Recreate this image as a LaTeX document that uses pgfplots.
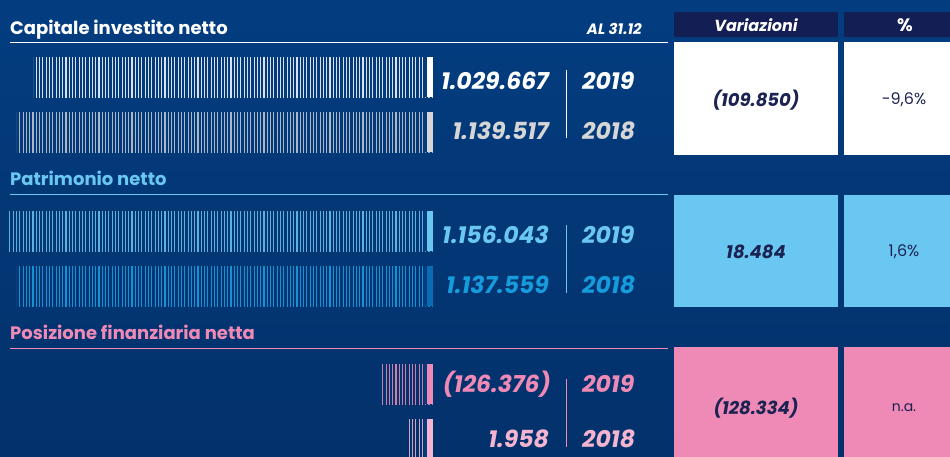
\documentclass[border=0pt]{standalone}
\usepackage{fontspec}
\setmainfont{Poppins}
\usepackage{pgfplots}
\pgfplotsset{compat=1.18}
\usetikzlibrary{patterns.meta}
\definecolor{bgtop}{HTML}{033D80}
\definecolor{bgbot}{HTML}{03316B}
\definecolor{navy}{HTML}{131E55}
\definecolor{txtnavy}{HTML}{1A2352}
\definecolor{lblue}{HTML}{6AC7F2}
\definecolor{mblue}{HTML}{169BDC}
\definecolor{dblue}{HTML}{0A6DB3}
\definecolor{pink}{HTML}{EF89B5}
\definecolor{lpink}{HTML}{F5B4D0}
\definecolor{lgray}{HTML}{D6D6D6}
\newcommand{\fs}[1]{\fontsize{#1}{#1}\selectfont}
\begin{document}
\begin{tikzpicture}
\begin{axis}[at={(0,0)}, anchor=south west, scale only axis, width=950pt, height=456pt,
  xmin=0, xmax=950, ymin=0, ymax=456, y dir=reverse, hide axis]
\addplot[draw=none] coordinates {(0,0) (950,456)};
\fill[top color=bgtop, bottom color=bgbot] (axis cs:0,0) rectangle (axis cs:950,456);
% header boxes
\fill[navy] (axis cs:674,12) rectangle (axis cs:838,37);
\fill[navy] (axis cs:844,12) rectangle (axis cs:966,37);
\node[font=\fs{16}\bfseries\itshape, text=white] at (axis cs:756,25) {Variazioni};
\node[font=\fs{18}\bfseries, text=white] at (axis cs:905,25) {\%};
% row boxes
\fill[white] (axis cs:674,42) rectangle (axis cs:838,155);
\fill[white] (axis cs:844,42) rectangle (axis cs:966,155);
\fill[lblue] (axis cs:674,195) rectangle (axis cs:838,307);
\fill[lblue] (axis cs:844,195) rectangle (axis cs:966,307);
\fill[pink] (axis cs:674,347) rectangle (axis cs:838,460);
\fill[pink] (axis cs:844,347) rectangle (axis cs:966,460);
% titles
\node[anchor=base west, inner sep=0, font=\fs{18}\bfseries, text=white] at (axis cs:10,34) {Capitale investito netto};
\node[anchor=base east, inner sep=0, font=\fs{15}\bfseries\itshape, text=white] at (axis cs:642,34) {AL 31.12};
\draw[white, line width=1.2pt] (axis cs:10,42.3) -- (axis cs:668,42.3);
\node[anchor=base west, inner sep=0, font=\fs{18}\bfseries, text=lblue] at (axis cs:10,185) {Patrimonio netto};
\draw[lblue, line width=1.2pt] (axis cs:10,194.7) -- (axis cs:668,194.7);
\node[anchor=base west, inner sep=0, font=\fs{18}\bfseries, text=pink] at (axis cs:10,339) {Posizione finanziaria netta};
\draw[pink, line width=1.2pt] (axis cs:10,348.7) -- (axis cs:668,348.7);
% values
\node[anchor=base east, inner sep=0, font=\fs{23.5}\bfseries\itshape, text=white] at (axis cs:549,89) {1.029.667};
\node[anchor=base east, inner sep=0, font=\fs{23.5}\bfseries\itshape, text=lgray] at (axis cs:549,139) {1.139.517};
\node[anchor=base west, inner sep=0, font=\fs{23.5}\bfseries\itshape, text=white] at (axis cs:582,89) {2019};
\node[anchor=base west, inner sep=0, font=\fs{23.5}\bfseries\itshape, text=lgray] at (axis cs:582,139) {2018};
\draw[white, line width=1pt] (axis cs:566,70) -- (axis cs:566,138);
\node[anchor=base east, inner sep=0, font=\fs{23.5}\bfseries\itshape, text=lblue] at (axis cs:549,243) {1.156.043};
\node[anchor=base east, inner sep=0, font=\fs{23.5}\bfseries\itshape, text=mblue] at (axis cs:549,293) {1.137.559};
\node[anchor=base west, inner sep=0, font=\fs{23.5}\bfseries\itshape, text=lblue] at (axis cs:582,243) {2019};
\node[anchor=base west, inner sep=0, font=\fs{23.5}\bfseries\itshape, text=mblue] at (axis cs:582,293) {2018};
\draw[lblue, line width=1pt] (axis cs:566,225) -- (axis cs:566,293);
\node[anchor=base east, inner sep=0, font=\fs{23.5}\bfseries\itshape, text=pink] at (axis cs:551,392) {(126.376)};
\node[anchor=base east, inner sep=0, font=\fs{23.5}\bfseries\itshape, text=lpink] at (axis cs:549,447) {1.958};
\node[anchor=base west, inner sep=0, font=\fs{23.5}\bfseries\itshape, text=pink] at (axis cs:582,392) {2019};
\node[anchor=base west, inner sep=0, font=\fs{23.5}\bfseries\itshape, text=lpink] at (axis cs:582,447) {2018};
\draw[pink, line width=1pt] (axis cs:566,379) -- (axis cs:566,447);
% variation texts
\node[font=\fs{18}\bfseries\itshape, text=txtnavy] at (axis cs:756,100) {(109.850)};
\node[font=\fs{16}, text=txtnavy] at (axis cs:904,100) {-9,6\%};
\node[font=\fs{18}\bfseries\itshape, text=txtnavy] at (axis cs:756,252) {18.484};
\node[font=\fs{16}, text=txtnavy] at (axis cs:904,252) {1,6\%};
\node[font=\fs{18}\bfseries\itshape, text=txtnavy] at (axis cs:756,408) {(128.334)};
\node[font=\fs{14}, text=txtnavy] at (axis cs:904,408) {n.a.};
\end{axis}
% bars (lengths as drawn, right-aligned at x=433)
\begin{axis}[at={(0,0)}, anchor=south west, scale only axis, width=433pt, height=456pt,
  xmin=0, xmax=433, x dir=reverse, ymin=0, ymax=456, y dir=reverse, hide axis,
  xbar, bar width=40pt, bar shift=0pt]
\addplot[draw=none, pattern={Lines[angle=90,distance=3.3pt,line width=1.1pt]}, pattern color=white!85!bgtop] coordinates {(399,77)};
\addplot[draw=none, pattern={Lines[angle=90,distance=3.3pt,line width=1.1pt]}, pattern color=lgray!80!bgtop] coordinates {(416,132)};
\addplot[draw=none, pattern={Lines[angle=90,distance=3.3pt,line width=1.1pt]}, pattern color=lblue!85!bgtop] coordinates {(424,231)};
\addplot[draw=none, pattern={Lines[angle=90,distance=3.3pt,line width=1.1pt]}, pattern color=mblue!90!bgtop] coordinates {(416,286)};
\addplot[draw=none, pattern={Lines[angle=90,distance=3.3pt,line width=1.1pt]}, pattern color=pink!85!bgtop] coordinates {(51,384)};
\addplot[draw=none, pattern={Lines[angle=90,distance=3.3pt,line width=1.1pt]}, pattern color=lpink!85!bgtop] coordinates {(24,439)};
\addplot[draw=none, fill=bgtop] coordinates {(9,77) (9,132) (9,231) (9,286) (9,384) (9,439)};
\addplot[draw=none, fill=white] coordinates {(6,77)};
\addplot[draw=none, fill=lgray] coordinates {(6,132)};
\addplot[draw=none, fill=lblue] coordinates {(6,231)};
\addplot[draw=none, fill=dblue] coordinates {(6,286)};
\addplot[draw=none, fill=pink] coordinates {(6,384)};
\addplot[draw=none, fill=lpink] coordinates {(6,439)};
\end{axis}
\end{tikzpicture}
\end{document}
